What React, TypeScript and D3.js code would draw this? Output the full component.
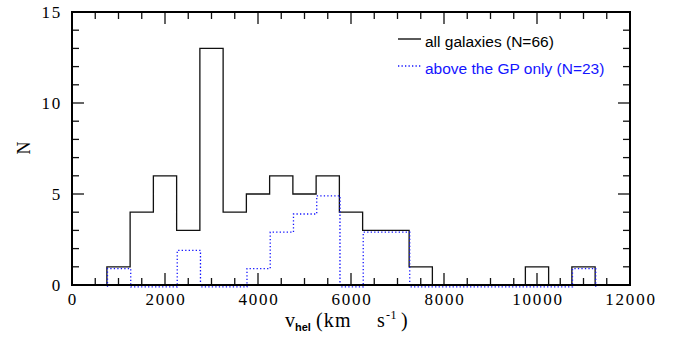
import React, { useRef, useEffect } from 'react';
import * as d3 from 'd3';

// bin edges (km/s), 500 km/s wide
const binEdges = [750, 1250, 1750, 2250, 2750, 3250, 3750, 4250, 4750, 5250, 5750, 6250, 6750, 7250, 7750, 8250, 8750, 9250, 9750, 10250, 10750, 11250];
// counts per bin
const allCounts = [1, 4, 6, 3, 13, 4, 5, 6, 5, 6, 4, 3, 3, 1, 0, 0, 0, 0, 1, 0, 1];
const gpCounts = [1, 0, 0, 2, 0, 0, 1, 3, 4, 5, 0, 3, 3, 0, 0, 0, 0, 0, 0, 0, 1];

const xMajor = [0, 2000, 4000, 6000, 8000, 10000, 12000];
const yMajor = [0, 5, 10, 15];

const W = 679;
const H = 345;

const App: React.FC = () => {
  const svgRef = useRef<SVGSVGElement | null>(null);

  useEffect(() => {
    if (!svgRef.current) return;
    const svg = d3.select(svgRef.current);
    svg.selectAll('*').remove();

    const x = d3.scaleLinear().domain([0, 12000]).range([72, 630]);
    const y = d3.scaleLinear().domain([0, 15]).range([285, 12]);
    const [x0, x1] = x.range();
    const [y0, y1] = y.range();

    const serif = '"Liberation Serif", "DejaVu Serif", serif';
    const sans = '"Liberation Sans", Arial, sans-serif';
    const blue = '#1414ff';

    // step outline of a histogram
    const stepPath = (counts: number[]) => {
      const pts: [number, number][] = [[binEdges[0], 0]];
      counts.forEach((c, i) => {
        pts.push([binEdges[i], c]);
        pts.push([binEdges[i + 1], c]);
      });
      pts.push([binEdges[binEdges.length - 1], 0]);
      return d3.line<[number, number]>()
        .x(d => x(d[0]))
        .y(d => y(d[1]))(pts);
    };

    svg.append('path')
      .attr('d', stepPath(allCounts))
      .attr('fill', 'none')
      .attr('stroke', '#111')
      .attr('stroke-width', 1.3);

    svg.append('path')
      .attr('d', stepPath(gpCounts))
      .attr('transform', 'translate(0.6,1.8)')
      .attr('fill', 'none')
      .attr('stroke', blue)
      .attr('stroke-width', 1.3)
      .attr('stroke-dasharray', '1.3,2.2');

    // ticks
    const ticks = svg.append('g').attr('stroke', '#111').attr('stroke-width', 1.3);
    d3.range(0, 12001, 500).forEach(v => {
      const len = v % 2000 === 0 ? 12 : 7;
      ticks.append('line').attr('x1', x(v)).attr('x2', x(v)).attr('y1', y0).attr('y2', y0 - len);
      ticks.append('line').attr('x1', x(v)).attr('x2', x(v)).attr('y1', y1).attr('y2', y1 + len);
    });
    d3.range(0, 16, 1).forEach(v => {
      const len = v % 5 === 0 ? 12 : 7;
      ticks.append('line').attr('y1', y(v)).attr('y2', y(v)).attr('x1', x0).attr('x2', x0 + len);
      ticks.append('line').attr('y1', y(v)).attr('y2', y(v)).attr('x1', x1).attr('x2', x1 - len);
    });

    // frame
    svg.append('rect')
      .attr('x', x0).attr('y', y1)
      .attr('width', x1 - x0).attr('height', y0 - y1)
      .attr('fill', 'none')
      .attr('stroke', '#000')
      .attr('stroke-width', 2);

    // tick labels
    svg.append('g').selectAll('text')
      .data(xMajor)
      .join('text')
      .attr('x', d => x(d) + 1)
      .attr('y', 305)
      .attr('text-anchor', 'middle')
      .attr('font-family', serif)
      .attr('font-size', 17)
      .attr('letter-spacing', 1.8)
      .text(d => String(d));

    svg.append('g').selectAll('text')
      .data(yMajor)
      .join('text')
      .attr('x', 62)
      .attr('y', d => y(d) + 6)
      .attr('text-anchor', 'end')
      .attr('font-family', serif)
      .attr('font-size', 17)
      .attr('letter-spacing', 1.8)
      .text(d => String(d));

    // axis titles
    const xl = svg.append('text')
      .attr('y', 327)
      .attr('font-family', serif)
      .attr('font-size', 20)
      .attr('letter-spacing', 1.2)
      .attr('fill', '#000');
    xl.append('tspan').attr('x', 285).text('v');
    xl.append('tspan').attr('x', 295).attr('font-family', sans).attr('font-weight', 'bold')
      .attr('font-size', 11).attr('letter-spacing', 0).attr('dy', 4).text('hel');
    xl.append('tspan').attr('x', 316).attr('dy', -4).text('(km');
    xl.append('tspan').attr('x', 377).text('s');
    xl.append('tspan').attr('x', 386).attr('font-size', 12).attr('letter-spacing', 0.5).attr('dy', -8).text('-1');
    xl.append('tspan').attr('x', 401).attr('dy', 8).text(')');

    svg.append('text')
      .attr('transform', 'translate(30,148) rotate(-90)')
      .attr('text-anchor', 'middle')
      .attr('font-family', serif)
      .attr('font-size', 18)
      .text('N');

    // legend
    const leg = svg.append('g');
    leg.append('line').attr('x1', 398).attr('x2', 421).attr('y1', 39).attr('y2', 39)
      .attr('stroke', '#000').attr('stroke-width', 1.3);
    leg.append('text').attr('x', 425).attr('y', 47)
      .attr('font-family', sans).attr('font-size', 15.5).attr('fill', '#000')
      .text('all galaxies (N=66)');
    leg.append('line').attr('x1', 398).attr('x2', 421).attr('y1', 66).attr('y2', 66)
      .attr('stroke', blue).attr('stroke-width', 1.3).attr('stroke-dasharray', '1.3,2.2');
    leg.append('text').attr('x', 425).attr('y', 74)
      .attr('font-family', sans).attr('font-size', 15.5).attr('fill', blue)
      .text('above the GP only (N=23)');
  }, []);

  return (
    <svg
      ref={svgRef}
      width={W}
      height={H}
      style={{ position: 'absolute', left: 0, top: 0, background: '#fff' }}
    />
  );
};

export default App;
